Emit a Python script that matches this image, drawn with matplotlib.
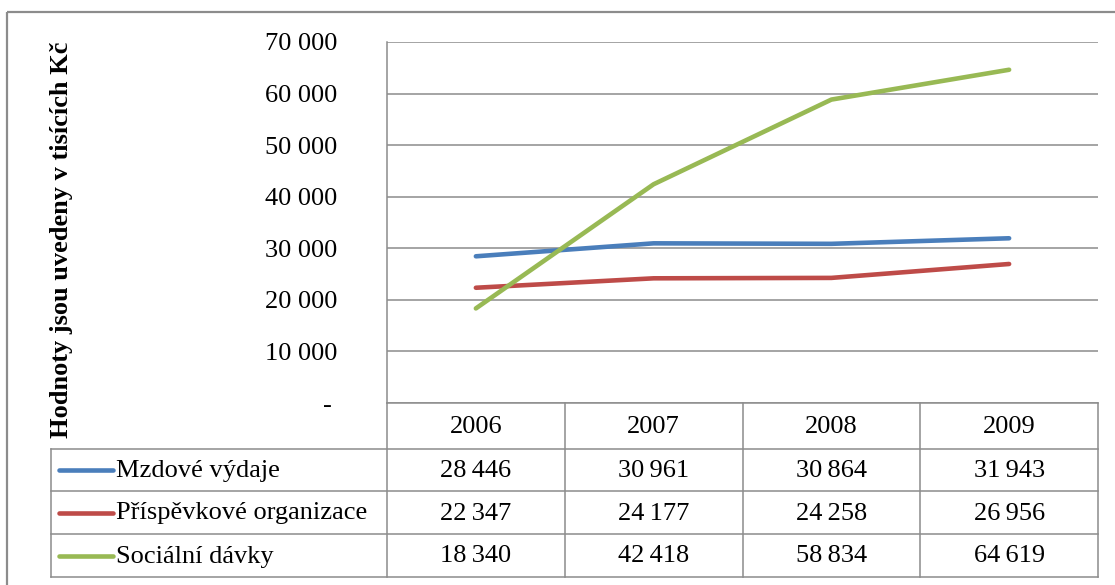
import matplotlib
matplotlib.use('Agg')
import matplotlib.pyplot as plt
from matplotlib.patches import Rectangle

YEARS = ['2006', '2007', '2008', '2009']
SERIES = ['Mzdové výdaje', 'Příspěvkové organizace', 'Sociální dávky']
MZDOVE = [28446, 30961, 30864, 31943]
PRISPEVKOVE = [22347, 24177, 24258, 26956]
SOCIALNI = [18340, 42418, 58834, 64619]
COLORS = ['#4A7EBB', '#BE4B48', '#98B954']
Y_TICKS = [0, 10000, 20000, 30000, 40000, 50000, 60000, 70000]
Y_LABEL = 'Hodnoty jsou uvedeny v tisících Kč'

W, H = 1115, 585
FONT = ['Liberation Serif', 'DejaVu Serif']
FS = 19
GRID = '#8C8C8C'


def fmt(v, sep=' '):
    if v == 0:
        return '-\u2009'
    return f'{v:,}'.replace(',', sep)


def fx(px):
    return px / W


def fy(py):
    return 1 - py / H


plt.rcParams['font.family'] = FONT

fig = plt.figure(figsize=(W / 100, H / 100), dpi=100)

# plot area in pixels
left, right, top, bottom = 387, 1098, 42, 403
ax = fig.add_axes([fx(left), fy(bottom), fx(right - left), (bottom - top) / H])

values = [MZDOVE, PRISPEVKOVE, SOCIALNI]
xpos = [i + 0.5 for i in range(len(YEARS))]
for vals, col in zip(values, COLORS):
    ax.plot(xpos, vals, color=col, lw=3.3, solid_capstyle='round', solid_joinstyle='round', zorder=3)

ax.set_xlim(0, len(YEARS))
ax.set_ylim(0, 70000)
ax.set_yticks(Y_TICKS)
ax.set_yticklabels([fmt(v) for v in Y_TICKS], fontsize=FS)
ax.set_xticks([])
ax.tick_params(axis='y', length=0, pad=36)
ax.grid(axis='y', color=GRID, lw=1.1)
for s in ['top', 'right', 'bottom']:
    ax.spines[s].set_visible(False)
ax.spines['left'].set_color(GRID)
ax.spines['left'].set_linewidth(1.1)

fig.text(fx(62), fy(240), Y_LABEL, rotation=90, ha='center', va='center',
         fontsize=FS, fontweight='bold')

# data table drawn in pixel space
tax = fig.add_axes([0, 0, 1, 1])
tax.set_xlim(0, W)
tax.set_ylim(H, 0)
tax.axis('off')

col_edges = [left + i * (right - left) / len(YEARS) for i in range(len(YEARS) + 1)]
row_edges = [bottom, 449, 491, 534, 577]
tab_left = 51

# header row
tax.plot([left, right], [row_edges[0]] * 2, color=GRID, lw=1.1)
for xe in col_edges:
    tax.plot([xe, xe], [row_edges[0], row_edges[-1]], color=GRID, lw=1.1)
for i, yr in enumerate(YEARS):
    tax.text((col_edges[i] + col_edges[i + 1]) / 2, (row_edges[0] + row_edges[1]) / 2 + 1, yr,
             ha='center', va='center', fontsize=FS)

# body rows
for ye in row_edges[1:]:
    tax.plot([tab_left, right], [ye, ye], color=GRID, lw=1.1)
tax.plot([tab_left, tab_left], [row_edges[1], row_edges[-1]], color=GRID, lw=1.1)

for r, (name, vals, col) in enumerate(zip(SERIES, values, COLORS)):
    yc = (row_edges[r + 1] + row_edges[r + 2]) / 2
    tax.plot([59, 113], [yc, yc], color=col, lw=3.3, solid_capstyle='round')
    tax.text(116, yc + 1, name, ha='left', va='center', fontsize=FS)
    for i, v in enumerate(vals):
        tax.text((col_edges[i] + col_edges[i + 1]) / 2, yc + 1, fmt(v, '\u2009'),
                 ha='center', va='center', fontsize=FS)

# outer chart border
tax.add_patch(Rectangle((7, 12), W, H, fill=False, edgecolor='#8C8C8C', lw=1.6))

fig.savefig('out.png', dpi=100)
